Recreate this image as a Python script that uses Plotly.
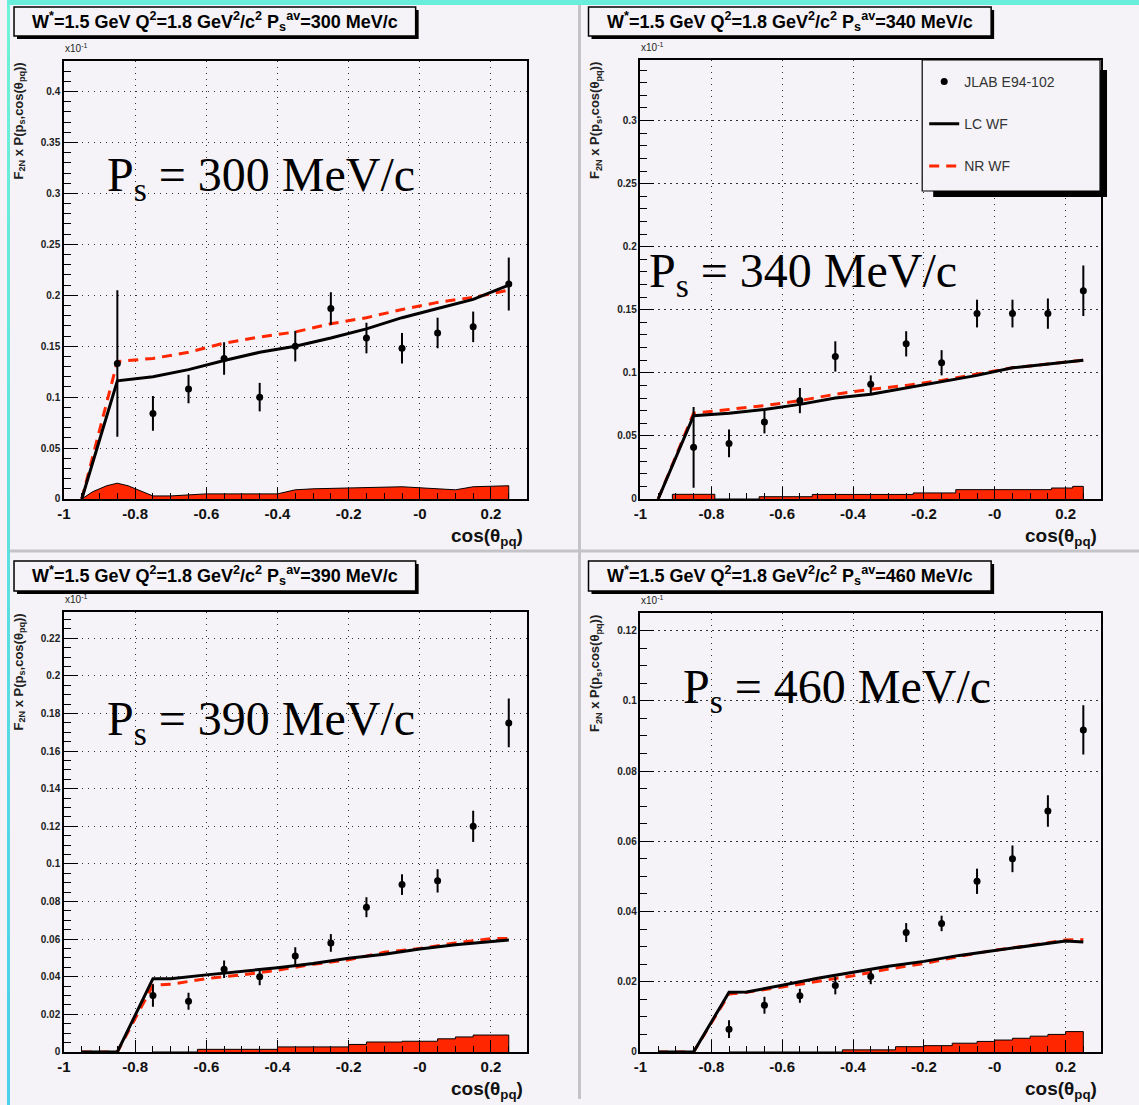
import plotly.graph_objects as go

W, H = 1139, 1105
BG = '#f5f3f7'
RED = '#ff2600'

# ---------------- data (values in units of 10^-1) ----------------
x_ticks = [-1, -0.8, -0.6, -0.4, -0.2, 0, 0.2]
x_ticklabels = ['-1', '-0.8', '-0.6', '-0.4', '-0.2', '-0', '0.2']

ps_values = [300, 340, 390, 460]

# JLAB E94-102 data points
data_x_300 = [-0.85, -0.75, -0.65, -0.55, -0.45, -0.35, -0.25, -0.15, -0.05, 0.05, 0.15, 0.25]
data_y_300 = [0.133, 0.084, 0.108, 0.138, 0.100, 0.150, 0.187, 0.158, 0.148, 0.163, 0.169, 0.211]
data_e_300 = [0.072, 0.017, 0.014, 0.016, 0.014, 0.015, 0.016, 0.015, 0.015, 0.015, 0.015, 0.026]

data_x_340 = [-0.85, -0.75, -0.65, -0.55, -0.45, -0.35, -0.25, -0.15, -0.05, 0.05, 0.15, 0.25]
data_y_340 = [0.041, 0.044, 0.061, 0.078, 0.113, 0.091, 0.123, 0.108, 0.147, 0.147, 0.147, 0.165]
data_e_340 = [0.032, 0.011, 0.009, 0.010, 0.012, 0.007, 0.010, 0.010, 0.011, 0.011, 0.012, 0.020]

data_x_390 = [-0.75, -0.65, -0.55, -0.45, -0.35, -0.25, -0.15, -0.05, 0.05, 0.15, 0.25]
data_y_390 = [0.030, 0.027, 0.044, 0.040, 0.051, 0.058, 0.077, 0.089, 0.091, 0.120, 0.175]
data_e_390 = [0.006, 0.0045, 0.0046, 0.0045, 0.0047, 0.0047, 0.0053, 0.0055, 0.0062, 0.0083, 0.013]

data_x_460 = [-0.75, -0.65, -0.55, -0.45, -0.35, -0.25, -0.15, -0.05, 0.05, 0.15, 0.25]
data_y_460 = [0.0065, 0.0133, 0.016, 0.0189, 0.0215, 0.034, 0.0366, 0.0486, 0.055, 0.0686, 0.0917]
data_e_460 = [0.0025, 0.0024, 0.002, 0.0025, 0.0022, 0.0027, 0.0022, 0.0036, 0.0038, 0.0045, 0.007]

# LC WF (solid) and NR WF (dashed) model curves
curve_x_lo = [-0.95, -0.85, -0.75, -0.65, -0.55, -0.45, -0.35, -0.25, -0.15, -0.05, 0.05, 0.15, 0.25]
lc_y_300 = [0, 0.116, 0.120, 0.127, 0.136, 0.144, 0.150, 0.158, 0.167, 0.178, 0.187, 0.196, 0.210]
nr_y_300 = [0, 0.135, 0.138, 0.144, 0.153, 0.159, 0.164, 0.172, 0.178, 0.186, 0.193, 0.198, 0.205]
lc_y_340 = [0, 0.066, 0.068, 0.071, 0.075, 0.080, 0.083, 0.088, 0.093, 0.098, 0.104, 0.107, 0.110]
nr_y_340 = [0, 0.068, 0.071, 0.074, 0.078, 0.083, 0.087, 0.090, 0.094, 0.099, 0.104, 0.107, 0.110]

curve_x_hi = [-0.95, -0.85, -0.75, -0.7, -0.6, -0.5, -0.4, -0.3, -0.2, -0.1, 0.0, 0.1, 0.2, 0.25]
lc_y_390 = [0, 0, 0.039, 0.039, 0.041, 0.0427, 0.0448, 0.047, 0.0498, 0.052, 0.0548, 0.057, 0.059, 0.0596]
nr_y_390 = [0, 0, 0.0355, 0.036, 0.039, 0.041, 0.0435, 0.0466, 0.049, 0.053, 0.055, 0.058, 0.0603, 0.0604]
lc_y_460 = [0, 0, 0.017, 0.0171, 0.019, 0.021, 0.0227, 0.0244, 0.0258, 0.0275, 0.0289, 0.0302, 0.0316, 0.0313]
nr_y_460 = [0, 0, 0.0165, 0.0170, 0.0185, 0.0200, 0.0217, 0.0236, 0.0252, 0.0272, 0.0290, 0.0303, 0.0319, 0.0320]

# red shaded contribution
shade_x_300 = [-0.95, -0.92, -0.88, -0.85, -0.82, -0.78, -0.75, -0.70, -0.60, -0.40, -0.35, -0.30, -0.05, 0.10, 0.15, 0.25, 0.25]
shade_y_300 = [0, 0.007, 0.013, 0.0155, 0.013, 0.007, 0.003, 0.003, 0.005, 0.005, 0.009, 0.010, 0.012, 0.009, 0.012, 0.013, 0]
shade_x_340 = [-0.91, -0.91, -0.79, -0.665, -0.515, -0.23, -0.11, 0.16, 0.22, 0.25]
shade_y_340 = [0, 0.0037, 0.0, 0.0018, 0.0036, 0.0048, 0.0074, 0.0087, 0.010, 0]
shade_x_390 = [-0.75, -0.625, -0.4, -0.2, -0.15, -0.05, 0.05, 0.1, 0.15, 0.25]
shade_y_390 = [0, 0.0014, 0.0027, 0.0040, 0.0053, 0.0057, 0.0070, 0.0080, 0.0090, 0]
shade_x_460 = [-0.75, -0.43, -0.28, -0.2, -0.12, -0.05, 0.0, 0.05, 0.1, 0.15, 0.2, 0.25]
shade_y_460 = [0, 0.0006, 0.0015, 0.0018, 0.0025, 0.0030, 0.0034, 0.0039, 0.0045, 0.0050, 0.0058, 0]

y_ticks_300 = [0, 0.05, 0.1, 0.15, 0.2, 0.25, 0.3, 0.35, 0.4]
y_labels_300 = ['0', '0.05', '0.1', '0.15', '0.2', '0.25', '0.3', '0.35', '0.4']
y_ticks_340 = [0, 0.05, 0.1, 0.15, 0.2, 0.25, 0.3]
y_labels_340 = ['0', '0.05', '0.1', '0.15', '0.2', '0.25', '0.3']
y_ticks_390 = [0, 0.02, 0.04, 0.06, 0.08, 0.1, 0.12, 0.14, 0.16, 0.18, 0.2, 0.22]
y_labels_390 = ['0', '0.02', '0.04', '0.06', '0.08', '0.1', '0.12', '0.14', '0.16', '0.18', '0.2', '0.22']
y_ticks_460 = [0, 0.02, 0.04, 0.06, 0.08, 0.1, 0.12]
y_labels_460 = ['0', '0.02', '0.04', '0.06', '0.08', '0.1', '0.12']

# ---------------- layout geometry (pixel -> paper) ----------------
def px(x):
    x = x - 6 * (1 - x / W)
    return x / W

def py(y):
    y = y + 6 * y / H
    return 1 - y / H

panels = [
    dict(ps=300, frame=(63, 526, 61, 499), yr=[0, 0.43], minor=0.01,
         dx=data_x_300, dy=data_y_300, de=data_e_300, cx=curve_x_lo, lc=lc_y_300, nr=nr_y_300,
         sx=shade_x_300, sy=shade_y_300, sshape='linear', yt=y_ticks_300, yl=y_labels_300,
         title_box=(13, 415, 7, 36), big=(104, 178)),
    dict(ps=340, frame=(640, 1101, 60, 499), yr=[0, 0.348], minor=0.01,
         dx=data_x_340, dy=data_y_340, de=data_e_340, cx=curve_x_lo, lc=lc_y_340, nr=nr_y_340,
         sx=shade_x_340, sy=shade_y_340, sshape='hv', yt=y_ticks_340, yl=y_labels_340,
         title_box=(588, 991, 7, 36), big=(647, 274)),
    dict(ps=390, frame=(63, 526, 612, 1052), yr=[0, 0.234], minor=0.005,
         dx=data_x_390, dy=data_y_390, de=data_e_390, cx=curve_x_hi, lc=lc_y_390, nr=nr_y_390,
         sx=shade_x_390, sy=shade_y_390, sshape='hv', yt=y_ticks_390, yl=y_labels_390,
         title_box=(13, 415, 561, 591), big=(104, 722)),
    dict(ps=460, frame=(640, 1101, 613, 1052), yr=[0, 0.125], minor=0.005,
         dx=data_x_460, dy=data_y_460, de=data_e_460, cx=curve_x_hi, lc=lc_y_460, nr=nr_y_460,
         sx=shade_x_460, sy=shade_y_460, sshape='hv', yt=y_ticks_460, yl=y_labels_460,
         title_box=(588, 991, 561, 591), big=(681, 690)),
]

fig = go.Figure()
shapes = []
annotations = []

# decorative frame of the slide
n_seg = 20
for k in range(n_seg):
    t = k / (n_seg - 1)
    r = int(0x70 + (0x4c - 0x70) * t)
    g = int(0xf2 + (0xd0 - 0xf2) * t)
    b = int(0xd8 + (0xea - 0xd8) * t)
    shapes.append(dict(type='rect', xref='paper', yref='paper', layer='below',
                       x0=0, x1=px(9), y0=py(H * (k + 1) / n_seg) - 0.001, y1=py(H * k / n_seg) + 0.001,
                       fillcolor=f'rgb({r},{g},{b})', line=dict(width=0)))
shapes.append(dict(type='rect', xref='paper', yref='paper', layer='below',
                   x0=0, x1=1, y0=py(5), y1=1, fillcolor='#6aeedc', line=dict(width=0)))
shapes.append(dict(type='line', xref='paper', yref='paper', layer='below',
                   x0=px(579), x1=px(579), y0=0, y1=py(5), line=dict(color='#c4c4c8', width=3)))
shapes.append(dict(type='line', xref='paper', yref='paper', layer='below',
                   x0=px(9), x1=1, y0=py(551), y1=py(551), line=dict(color='#c4c4c8', width=3)))

for i, p in enumerate(panels):
    n = i + 1
    xa = 'x' if n == 1 else f'x{n}'
    ya = 'y' if n == 1 else f'y{n}'
    xl, xr, yt, yb = p['frame']
    first = (n == 2)

    fig.add_trace(go.Scatter(
        x=p['sx'], y=p['sy'], xaxis=xa, yaxis=ya, mode='lines', line_shape=p['sshape'],
        line=dict(color='black', width=1), fill='tozeroy', fillcolor=RED,
        showlegend=False, hoverinfo='skip'))
    fig.add_trace(go.Scatter(
        x=p['cx'], y=p['nr'], xaxis=xa, yaxis=ya, mode='lines',
        line=dict(color=RED, width=3, dash='10px,7px'), name='NR WF',
        legendgroup='g3', legendrank=3, showlegend=first))
    fig.add_trace(go.Scatter(
        x=p['cx'], y=p['lc'], xaxis=xa, yaxis=ya, mode='lines',
        line=dict(color='black', width=3), name='LC WF',
        legendgroup='g2', legendrank=2, showlegend=first))
    fig.add_trace(go.Scatter(
        x=p['dx'], y=p['dy'], xaxis=xa, yaxis=ya, mode='markers',
        marker=dict(color='black', size=7, symbol='circle'),
        error_y=dict(type='data', array=p['de'], visible=True, color='black', thickness=2, width=0),
        name='JLAB E94-102', legendgroup='g1', legendrank=1, showlegend=first))

    axis_common = dict(showline=True, mirror=True, linecolor='black', linewidth=1.5,
                       zeroline=False, showgrid=True, gridcolor='#303030', gridwidth=1.2,
                       griddash='1.5px,4.5px', ticks='inside', tickcolor='black', tickwidth=1)
    fig.update_layout({
        ('xaxis' if n == 1 else f'xaxis{n}'): dict(
            axis_common, domain=[px(xl), px(xr)], range=[-1, 0.3], anchor=ya,
            tickvals=x_ticks, ticktext=x_ticklabels, ticklen=12,
            minor=dict(ticks='inside', ticklen=6, dtick=0.05, tick0=0, tickcolor='black', showgrid=False),
            tickfont=dict(family='Liberation Sans', size=15, color='#111', weight='bold')),
        ('yaxis' if n == 1 else f'yaxis{n}'): dict(
            axis_common, domain=[py(yb), py(yt)], range=p['yr'], anchor=xa,
            tickvals=p['yt'], ticktext=p['yl'], ticklen=14,
            minor=dict(ticks='inside', ticklen=7, dtick=p['minor'], tick0=0, tickcolor='black', showgrid=False),
            tickfont=dict(family='Liberation Sans', size=10, color='#222', weight='bold')),
    })

    # title box with shadow
    bx0, bx1, by0, by1 = p['title_box']
    shapes.append(dict(type='rect', xref='paper', yref='paper', layer='above',
                       x0=px(bx0 + 3), x1=px(bx1 + 3), y0=py(by1 + 3), y1=py(by0 + 3),
                       fillcolor='black', line=dict(width=0)))
    shapes.append(dict(type='rect', xref='paper', yref='paper', layer='above',
                       x0=px(bx0), x1=px(bx1), y0=py(by1), y1=py(by0),
                       fillcolor=BG, line=dict(color='black', width=1.5)))
    annotations.append(dict(
        xref='paper', yref='paper', x=px((bx0 + bx1) / 2), y=py((by0 + by1) / 2),
        xanchor='center', yanchor='middle', showarrow=False,
        text=f"W<sup>*</sup>=1.5 GeV Q<sup>2</sup>=1.8 GeV<sup>2</sup>/c<sup>2</sup> P<sub>s</sub><sup>av</sup>={p['ps']} MeV/c",
        font=dict(family='Liberation Sans', size=18, color='black', weight='bold')))

    # x10^-1 exponent label
    annotations.append(dict(
        xref='paper', yref='paper', x=px(xl - 1), y=py(yt - 5), xanchor='left', yanchor='bottom',
        showarrow=False, text='x10<sup>-1</sup>',
        font=dict(family='Liberation Sans', size=10, color='#222')))

    # y-axis title (rotated, top aligned)
    annotations.append(dict(
        xref='paper', yref='paper', x=px(xl - 45), y=py(yt), xanchor='center', yanchor='top',
        showarrow=False, textangle=-90,
        text='F<sub>2N</sub> x P(p<sub>s</sub>,cos(θ<sub>pq</sub>))',
        font=dict(family='Liberation Sans', size=13, color='#222', weight='bold')))

    # x-axis title
    annotations.append(dict(
        xref='paper', yref='paper', x=px(xr - 2), y=py(yb + 38), xanchor='right', yanchor='middle',
        showarrow=False, text='cos(θ<sub>pq</sub>)',
        font=dict(family='Liberation Sans', size=19, color='#111', weight='bold')))

    # big momentum label
    bxl, byc = p['big']
    annotations.append(dict(
        xref='paper', yref='paper', x=px(bxl), y=py(byc), xanchor='left', yanchor='middle',
        showarrow=False, text=f"P<sub>s</sub> = {p['ps']} MeV/c",
        font=dict(family='Liberation Serif', size=48, color='black')))

# legend box with shadow (panel 2)
shapes.append(dict(type='rect', xref='paper', yref='paper', layer='above',
                   x0=px(933), x1=px(1107), y0=py(197), y1=py(70),
                   fillcolor='black', line=dict(width=0)))
shapes.append(dict(type='rect', xref='paper', yref='paper', layer='above',
                   x0=px(922), x1=px(1100), y0=py(191), y1=py(60),
                   fillcolor=BG, line=dict(color='black', width=1.2)))

fig.update_layout(
    width=W, height=H, margin=dict(l=0, r=0, t=0, b=0),
    paper_bgcolor=BG, plot_bgcolor=BG,
    shapes=shapes, annotations=annotations,
    legend=dict(x=px(924), y=py(66), xanchor='left', yanchor='top',
                bgcolor='rgba(0,0,0,0)', borderwidth=0, tracegroupgap=21,
                itemwidth=30, traceorder='grouped',
                font=dict(family='Liberation Sans', size=14, color='#333')),
    hovermode=False,
)

fig.write_html('out.html')
